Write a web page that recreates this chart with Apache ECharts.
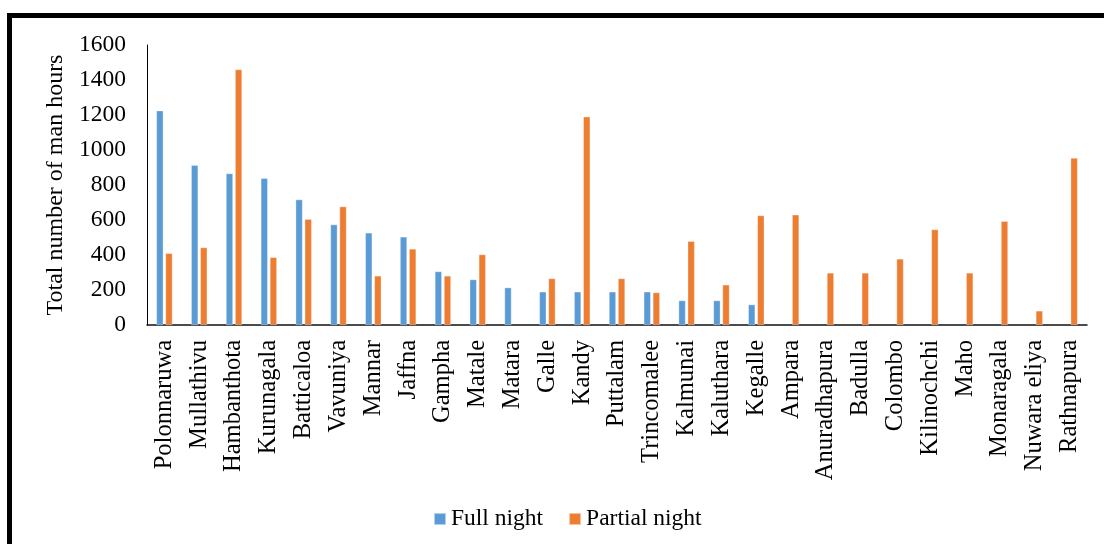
<!DOCTYPE html>
<html>
<head>
<meta charset="utf-8">
<title>Total number of man hours by district</title>
<script src="https://cdn.jsdelivr.net/npm/echarts@6/dist/echarts.min.js"></script>
<style>
  html, body { margin: 0; padding: 0; background: #fff; }
  #chart { width: 1104px; height: 544px; }
</style>
</head>
<body>
<div id="chart"></div>
<script>
// Districts on the category axis
const districts = [
  'Polonnaruwa', 'Mullathivu', 'Hambanthota', 'Kurunagala', 'Batticaloa',
  'Vavuniya', 'Mannar', 'Jaffna', 'Gampha', 'Matale', 'Matara', 'Galle',
  'Kandy', 'Puttalam', 'Trincomalee', 'Kalmunai', 'Kaluthara', 'Kegalle',
  'Ampara', 'Anuradhapura', 'Badulla', 'Colombo', 'Kilinochchi', 'Maho',
  'Monaragala', 'Nuwara eliya', 'Rathnapura'
];

// Man hours worked over a full night
const fullNight = [
  1225, 913, 866, 839, 717, 574, 527, 504, 306, 260, 214, 190,
  190, 190, 190, 140, 140, 117,
  null, null, null, null, null, null, null, null, null
];

// Man hours worked over part of the night
const partialNight = [
  410, 443, 1460, 387, 605, 677, 281, 435, 281, 403, null, 266,
  1191, 266, 186, 479, 230, 626,
  630, 298, 298, 378, 546, 298, 593, 81, 955
];

// Value axis ticks
const yMin = 0;
const yMax = 1600;
const yStep = 200;

const seriesNames = ['Full night', 'Partial night'];

const FONT = '"Liberation Serif", "Times New Roman", serif';
const chart = echarts.init(document.getElementById('chart'), null, { renderer: 'canvas' });

chart.setOption({
  animation: false,
  backgroundColor: '#ffffff',
  textStyle: { fontFamily: FONT, color: '#000' },
  color: ['#5B9BD5', '#ED7D31'],
  graphic: [{
    type: 'rect',
    silent: true,
    shape: { x: 9.5, y: 15.5, width: 1300, height: 800 },
    style: { fill: 'none', stroke: '#000', lineWidth: 5 }
  }],
  grid: { left: 147, right: 17, top: 45, bottom: 219, containLabel: false },
  legend: {
    data: seriesNames,
    left: 428,
    top: 502,
    itemWidth: 12,
    itemHeight: 12,
    itemGap: 25,
    icon: 'rect',
    textStyle: { fontFamily: FONT, fontSize: 23.5, color: '#000' }
  },
  xAxis: {
    type: 'category',
    data: districts,
    axisLine: { show: true, lineStyle: { color: '#111', width: 1.5 } },
    axisTick: { show: false },
    splitLine: { show: false },
    axisLabel: {
      interval: 0,
      rotate: 90,
      margin: 15,
      fontFamily: FONT,
      fontSize: 24.5,
      color: '#000'
    }
  },
  yAxis: {
    type: 'value',
    min: yMin,
    max: yMax,
    interval: yStep,
    name: 'Total number of man hours',
    nameLocation: 'middle',
    nameGap: 70,
    nameTextStyle: { fontFamily: FONT, fontSize: 24, color: '#000' },
    axisLine: { show: true, lineStyle: { color: '#000', width: 1 } },
    axisTick: { show: false },
    splitLine: { show: false },
    axisLabel: {
      margin: 21,
      fontFamily: FONT,
      fontSize: 23.5,
      color: '#000',
      formatter: (v) => String(v)
    }
  },
  series: [
    {
      name: seriesNames[0],
      type: 'bar',
      data: fullNight,
      barWidth: 7,
      barGap: '30%',
      itemStyle: { borderColor: 'rgba(255,255,255,0.55)', borderWidth: 0.6 }
    },
    {
      name: seriesNames[1],
      type: 'bar',
      data: partialNight,
      barWidth: 7,
      barGap: '30%',
      itemStyle: { borderColor: 'rgba(255,255,255,0.55)', borderWidth: 0.6 }
    }
  ]
});
</script>
</body>
</html>
